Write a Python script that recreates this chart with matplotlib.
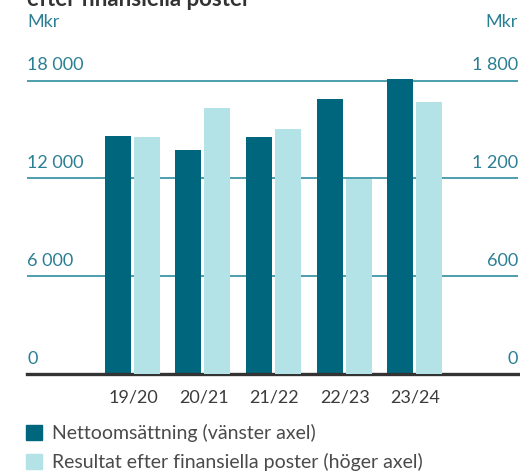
import matplotlib
matplotlib.use('Agg')
import matplotlib.pyplot as plt
from matplotlib.patches import Patch

plt.rcParams['font.family'] = ['Lato', 'DejaVu Sans']

# data (Mkr)
years = ['19/20', '20/21', '21/22', '22/23', '23/24']
netto = [14600, 13750, 14550, 16880, 18100]          # left axis
resultat = [1455, 1632, 1503, 1195, 1669]            # right axis
left_ticks = [0, 6000, 12000, 18000]
left_labels = ['0', '6 000', '12 000', '18 000']
right_ticks = [0, 600, 1200, 1800]
right_labels = ['0', '600', '1 200', '1 800']

dark = '#00667e'
light = '#b3e3e6'
teal_txt = '#2b7f93'
grid_c = '#4d9eae'
text_c = '#4a4a4a'

fig = plt.figure(figsize=(5.2, 4.73), dpi=100)
ax = fig.add_axes([27/520, 99/473, 491/520, 301.5/473])
ax2 = ax.twinx()

ax.set_ylim(0, 18500)
ax2.set_ylim(0, 1850)
ax.set_xlim(-1.5, 5.45)

x = list(range(len(years)))
w = 0.37
ax.bar([i - 0.215 for i in x], netto, width=w, color=dark, zorder=3)
ax2.bar([i + 0.195 for i in x], resultat, width=w, color=light, zorder=3)

# gridlines
ax.set_yticks(left_ticks)
ax.yaxis.grid(True, color=grid_c, linewidth=1.4, zorder=0)
ax.set_axisbelow(True)
ax.tick_params(axis='y', length=0, labelleft=False)
ax2.set_yticks(right_ticks)
ax2.tick_params(axis='y', length=0, labelright=False)

for v, lab in zip(left_ticks, left_labels):
    ax.annotate(lab, xy=(0, v), xycoords=ax.get_yaxis_transform(),
                xytext=(0, 7.5), textcoords='offset points',
                ha='left', va='baseline', fontsize=13, color=teal_txt)
for v, lab in zip(right_ticks, right_labels):
    ax2.annotate(lab, xy=(1, v), xycoords=ax2.get_yaxis_transform(),
                 xytext=(0, 7.5), textcoords='offset points',
                 ha='right', va='baseline', fontsize=13, color=teal_txt)

ax.set_xticks(x)
ax.set_xticklabels(years, fontsize=13, color='#3c3c3c')
ax.tick_params(axis='x', length=0, pad=11)

for a in (ax, ax2):
    for s in ['top', 'left', 'right', 'bottom']:
        a.spines[s].set_visible(False)
ax.spines['bottom'].set_visible(True)
ax.spines['bottom'].set_color('#333333')
ax.spines['bottom'].set_linewidth(2.4)
ax.spines['bottom'].set_zorder(5)

fig.text(27/520, 1 - 27/473, 'Mkr', fontsize=13, color=teal_txt,
         ha='left', va='baseline')
fig.text(518/520, 1 - 27/473, 'Mkr', fontsize=13, color=teal_txt,
         ha='right', va='baseline')
fig.text(27/520, 1 - 6/473, 'efter finansiella poster', fontsize=16,
         fontweight='bold', color='#333333', ha='left', va='baseline')

handles = [Patch(color=dark), Patch(color=light)]
fig.legend(handles, ['Nettoomsättning (vänster axel)',
                     'Resultat efter finansiella poster (höger axel)'],
           loc='upper left', bbox_to_anchor=(26/520, 1 - 424/473),
           frameon=False, fontsize=14, labelcolor=text_c,
           handlelength=0.82, handleheight=0.82, handletextpad=0.5,
           labelspacing=0.55, borderpad=0, borderaxespad=0)

plt.savefig('out.png', dpi=100)
